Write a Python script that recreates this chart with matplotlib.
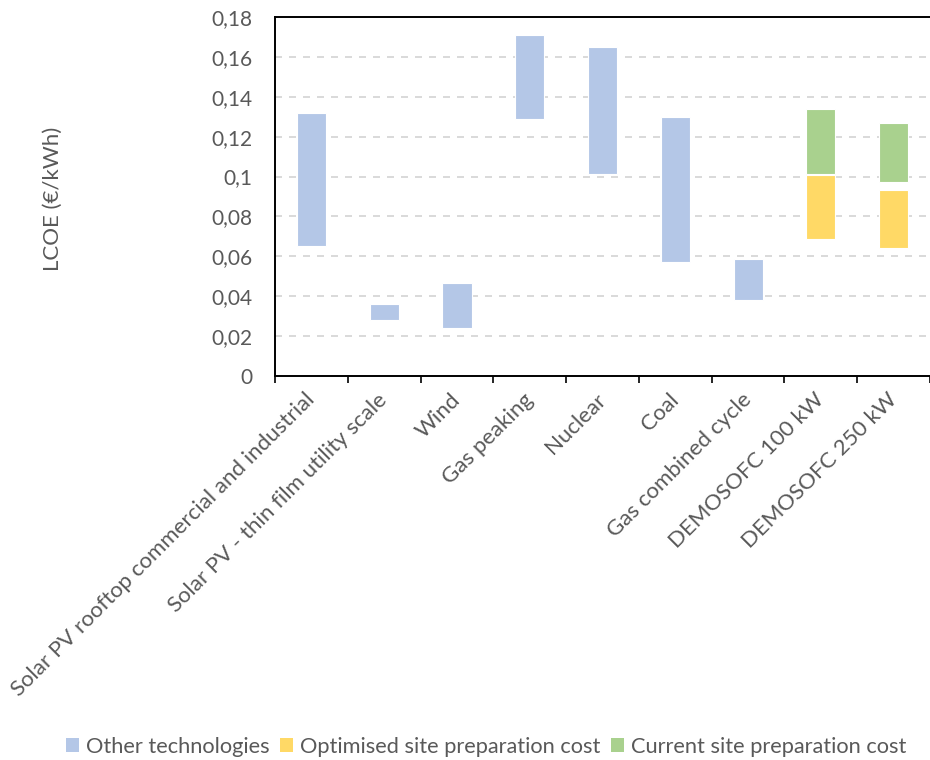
import matplotlib
matplotlib.use("Agg")
import matplotlib.pyplot as plt
from matplotlib.patches import Patch
import numpy as np

plt.rcParams['font.family'] = ['Lato', 'DejaVu Sans']

categories = [
    "Solar PV rooftop commercial and industrial",
    "Solar PV - thin film utility scale",
    "Wind",
    "Gas peaking",
    "Nuclear",
    "Coal",
    "Gas combined cycle",
    "DEMOSOFC 100 kW",
    "DEMOSOFC 250 kW",
]

# LCOE ranges (€/kWh) for conventional and renewable technologies
other_low = [0.065, 0.028, 0.024, 0.129, 0.1015, 0.057, 0.038, None, None]
other_high = [0.132, 0.036, 0.0465, 0.171, 0.165, 0.130, 0.0585, None, None]

# DEMOSOFC ranges: optimised and current site preparation cost
optimised_low = [None] * 7 + [0.0685, 0.064]
optimised_high = [None] * 7 + [0.101, 0.0935]
current_low = [None] * 7 + [0.1015, 0.0975]
current_high = [None] * 7 + [0.134, 0.127]

yticks = [0, 0.02, 0.04, 0.06, 0.08, 0.1, 0.12, 0.14, 0.16, 0.18]
ytick_labels = ["0", "0,02", "0,04", "0,06", "0,08", "0,1", "0,12", "0,14", "0,16", "0,18"]

BLUE = "#b4c7e7"
YELLOW = "#ffd966"
GREEN = "#a9d18e"
TEXT = "#595959"

fig = plt.figure(figsize=(9.3, 7.6), dpi=100)
ax = fig.add_axes([275 / 930, 1 - 376 / 760, (930 - 275) / 930, (376 - 17) / 760])

x = np.arange(len(categories))
width = 0.4


def floating(lows, highs, color):
    idx = [i for i, v in enumerate(lows) if v is not None]
    lo = np.array([lows[i] for i in idx])
    hi = np.array([highs[i] for i in idx])
    ax.bar(x[idx], hi - lo, bottom=lo, width=width, color=color,
           edgecolor="white", linewidth=0.8, zorder=3)


floating(other_low, other_high, BLUE)
floating(optimised_low, optimised_high, YELLOW)
floating(current_low, current_high, GREEN)

ax.set_xlim(-0.5, len(categories) - 0.5)
ax.set_ylim(0, 0.18)

ax.set_yticks(yticks)
ax.set_yticklabels(ytick_labels)
ax.tick_params(axis="y", length=0, pad=16, labelsize=15, labelcolor=TEXT)

ax.yaxis.grid(True, color="#d9d9d9", linewidth=1.4, linestyle=(0, (3.6, 3.6)), zorder=0)
ax.set_axisbelow(True)

ax.set_xticks(x)
ax.set_xticklabels(categories, rotation=45, ha="right", va="center",
                   rotation_mode="anchor", fontsize=16, color=TEXT)
ax.tick_params(axis="x", which="major", length=0, pad=15)
ax.set_xticks(np.arange(-0.5, len(categories), 1.0), minor=True)
ax.tick_params(axis="x", which="minor", length=5, width=1.2, direction="out", color="black")

for side in ["left", "top", "bottom"]:
    ax.spines[side].set_color("black")
    ax.spines[side].set_linewidth(1.4)
ax.spines["right"].set_visible(False)

fig.text(53 / 930, 1 - 199 / 760, "LCOE (€/kWh)", rotation=90, ha="center", va="center",
         fontsize=16, color=TEXT)

handles = [
    Patch(facecolor=BLUE, label="Other technologies"),
    Patch(facecolor=YELLOW, label="Optimised site preparation cost"),
    Patch(facecolor=GREEN, label="Current site preparation cost"),
]
leg = fig.legend(handles=handles, loc="center", bbox_to_anchor=(486 / 930, 1 - 747 / 760),
                 ncol=3, frameon=False, fontsize=15.7, handlelength=0.6, handleheight=0.6,
                 handletextpad=0.3, columnspacing=0.5)
for t in leg.get_texts():
    t.set_color(TEXT)

fig.savefig("out.png", dpi=100)
